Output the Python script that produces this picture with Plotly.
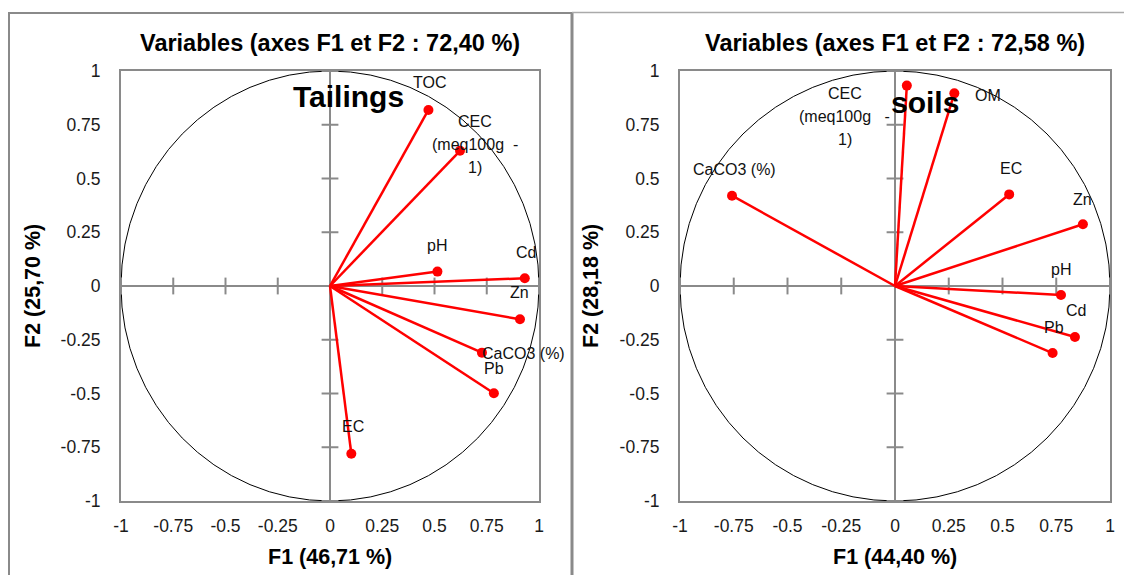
import plotly.graph_objects as go

# ---------------- data ----------------
tail_labels = ["TOC", "CEC\n(meq100g&nbsp;&nbsp;-\n1)", "pH", "Cd", "Zn", "CaCO3 (%)", "Pb", "EC"]
tail_f1 = [0.471, 0.622, 0.514, 0.932, 0.909, 0.727, 0.784, 0.102]
tail_f2 = [0.819, 0.629, 0.067, 0.036, -0.155, -0.310, -0.499, -0.780]
# label offsets in pixels (dx right, dy up)
tail_dx = [1, 15, 0, 1, 0, 42, 0, 2]
tail_dy = [27, 6, 26, 26, 27, -1, 25, 27]

soil_labels = ["CEC\n(meq100g&nbsp;&nbsp;&nbsp;-\n1)", "OM", "CaCO3 (%)", "EC", "Zn", "pH", "Cd", "Pb"]
soil_f1 = [0.055, 0.276, -0.758, 0.531, 0.874, 0.772, 0.837, 0.733]
soil_f2 = [0.932, 0.896, 0.420, 0.426, 0.287, -0.042, -0.237, -0.312]
soil_dx = [-62, 34, 2, 2, 0, 0, 1, 1]
soil_dy = [-31, -2, 26, 26, 25, 26, 26, 26]

tick_vals = [-1, -0.75, -0.5, -0.25, 0, 0.25, 0.5, 0.75, 1]
tick_text = ["-1", "-0.75", "-0.5", "-0.25", "0", "0.25", "0.5", "0.75", "1"]

panels = [
    dict(title="Variables (axes F1 et F2 : 72,40 %)", xtitle="F1 (46,71 %)", ytitle="F2 (25,70 %)",
         tag="Tailings", labels=tail_labels, f1=tail_f1, f2=tail_f2, dx=tail_dx, dy=tail_dy),
    dict(title="Variables (axes F1 et F2 : 72,58 %)", xtitle="F1 (44,40 %)", ytitle="F2 (28,18 %)",
         tag="soils", labels=soil_labels, f1=soil_f1, f2=soil_f2, dx=soil_dx, dy=soil_dy),
]

# the page places the figure 8px from the top-left corner of the window
OFF = 8
W, H = 1132 - OFF, 575 - OFF
FONT = "Liberation Sans, Arial, sans-serif"
GRAY = "#8a8a8a"
RED = "#ff0000"


def px(x):
    """screen x pixel -> paper fraction"""
    return (x - OFF) / W


def py(y):
    """screen y pixel -> paper fraction"""
    return 1 - (y - OFF) / H


# plot-area geometry (screen pixels)
plot_x = [(121, 539), (680, 1110)]
plot_y = (71, 501)
tag_pos = [(348, 97), (925, 102)]
ytitle_x = [33, 591]

fig = go.Figure()
annotations = []
shapes = []

for i, p in enumerate(panels):
    xa = "x" if i == 0 else "x2"
    ya = "y" if i == 0 else "y2"
    xname = "xaxis" if i == 0 else "xaxis2"
    yname = "yaxis" if i == 0 else "yaxis2"

    # unit circle
    shapes.append(dict(type="circle", xref=xa, yref=ya, x0=-1, y0=-1, x1=1, y1=1,
                       line=dict(color="black", width=1), layer="below"))

    # tick marks on the zero axes
    tk = [t for t in tick_vals if t != 0]
    fig.add_trace(go.Scatter(x=tk, y=[0] * len(tk), mode="markers", xaxis=xa, yaxis=ya,
                             marker=dict(symbol="line-ns", size=12, line=dict(color=GRAY, width=2)),
                             hoverinfo="skip", showlegend=False))
    fig.add_trace(go.Scatter(x=[0] * len(tk), y=tk, mode="markers", xaxis=xa, yaxis=ya,
                             marker=dict(symbol="line-ew", size=12, line=dict(color=GRAY, width=2)),
                             hoverinfo="skip", showlegend=False))

    # vectors
    lx, ly = [], []
    for a, b in zip(p["f1"], p["f2"]):
        lx += [0, a, None]
        ly += [0, b, None]
    fig.add_trace(go.Scatter(x=lx, y=ly, mode="lines", xaxis=xa, yaxis=ya,
                             line=dict(color=RED, width=2.5), hoverinfo="skip", showlegend=False))
    fig.add_trace(go.Scatter(x=p["f1"], y=p["f2"], mode="markers", xaxis=xa, yaxis=ya,
                             marker=dict(color=RED, size=10), showlegend=False,
                             text=[l.replace("\n", " ").replace("&nbsp;", "") for l in p["labels"]]))

    # labels
    for lab, a, b, dx, dy in zip(p["labels"], p["f1"], p["f2"], p["dx"], p["dy"]):
        lines = lab.split("\n")
        n = len(lines)
        for j, t in enumerate(lines):
            annotations.append(dict(x=a, y=b, xref=xa, yref=ya, text=t, showarrow=False,
                                    xanchor="center", yanchor="middle",
                                    xshift=dx, yshift=dy - (j - (n - 1) / 2) * 23,
                                    font=dict(family=FONT, size=16, color="#111")))

    x0, x1 = plot_x[i]
    cx = (x0 + x1) / 2
    # title
    annotations.append(dict(x=px(cx), y=py(43), xref="paper", yref="paper", text="<b>%s</b>" % p["title"],
                            showarrow=False, xanchor="center", yanchor="middle",
                            font=dict(family=FONT, size=23.5, color="black")))
    # panel tag
    annotations.append(dict(x=px(tag_pos[i][0]), y=py(tag_pos[i][1]), xref="paper", yref="paper",
                            text="<b>%s</b>" % p["tag"], showarrow=False, xanchor="center", yanchor="middle",
                            font=dict(family=FONT, size=30, color="black")))
    # axis titles
    annotations.append(dict(x=px(cx), y=py(557), xref="paper", yref="paper", text="<b>%s</b>" % p["xtitle"],
                            showarrow=False, xanchor="center", yanchor="middle",
                            font=dict(family=FONT, size=21.5, color="black")))
    annotations.append(dict(x=px(ytitle_x[i]), y=py(286), xref="paper", yref="paper",
                            text="<b>%s</b>" % p["ytitle"], textangle=-90,
                            showarrow=False, xanchor="center", yanchor="middle",
                            font=dict(family=FONT, size=21.5, color="black")))

    common = dict(range=[-1, 1], tickvals=tick_vals, ticktext=tick_text, ticks="",
                  showgrid=False, zeroline=True, zerolinecolor=GRAY, zerolinewidth=2,
                  showline=True, mirror=True, linecolor=GRAY, linewidth=2,
                  tickfont=dict(family=FONT, size=17.5, color="#1a1a1a"),
                  fixedrange=True, automargin=False)
    fig.layout[xname] = dict(common, domain=[px(x0), px(x1)], anchor=ya, ticklabelstandoff=8)
    fig.layout[yname] = dict(common, domain=[py(plot_y[1]), py(plot_y[0])], anchor=xa, ticklabelstandoff=15)

# panel frames
shapes += [
    dict(type="line", xref="paper", yref="paper", x0=px(9), x1=px(9), y0=py(13), y1=0,
         line=dict(color=GRAY, width=2)),
    dict(type="line", xref="paper", yref="paper", x0=px(8), x1=px(572), y0=py(13), y1=py(13),
         line=dict(color=GRAY, width=2)),
    dict(type="line", xref="paper", yref="paper", x0=px(572), x1=px(572), y0=py(12), y1=0,
         line=dict(color=GRAY, width=3)),
    dict(type="line", xref="paper", yref="paper", x0=px(572), x1=1, y0=py(12.5), y1=py(12.5),
         line=dict(color="#aaaaaa", width=1.5)),
]

fig.update_layout(width=W, height=H, margin=dict(l=0, r=0, t=0, b=0), autosize=False,
                  paper_bgcolor="white", plot_bgcolor="white",
                  annotations=annotations, shapes=shapes, showlegend=False,
                  font=dict(family=FONT))

fig.write_html("out.html")
